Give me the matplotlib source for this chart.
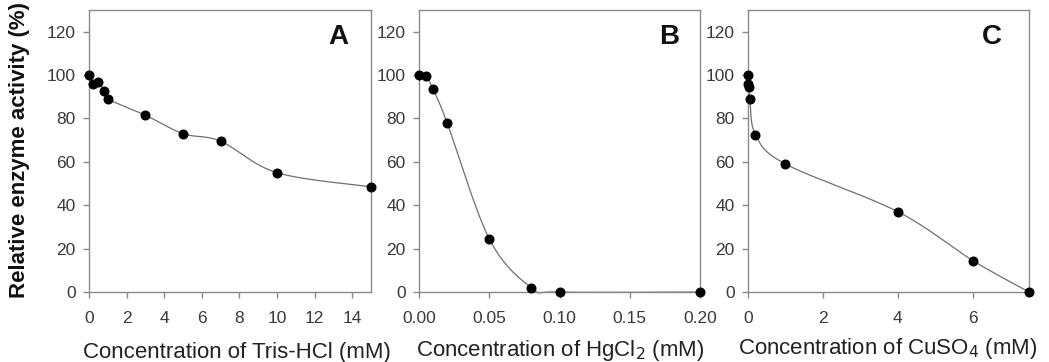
import numpy as np
import matplotlib
matplotlib.use("Agg")
import matplotlib.pyplot as plt

plt.rcParams['font.family'] = ['Liberation Sans', 'DejaVu Sans']

# Panel A: Tris-HCl
tris_x = [0, 0.2, 0.5, 0.8, 1.0, 3, 5, 7, 10, 15]
tris_y = [100, 96, 97, 92.5, 89, 81.5, 73, 69.5, 55, 48.5]
# Panel B: HgCl2
hg_x = [0, 0.005, 0.01, 0.02, 0.05, 0.08, 0.10, 0.20]
hg_y = [100, 99.5, 93.5, 78, 24.5, 2, 0, 0]
# Panel C: CuSO4
cu_x = [0, 0.01, 0.02, 0.05, 0.2, 1.0, 4.0, 6.0, 7.5]
cu_y = [100, 96, 94.5, 89, 72.5, 59, 37, 14.5, 0]

a_ticks = [0, 2, 4, 6, 8, 10, 12, 14]
b_ticks = [0.00, 0.05, 0.10, 0.15, 0.20]
c_ticks = [0, 2, 4, 6]
y_ticks = [0, 20, 40, 60, 80, 100, 120]

W, H = 1049, 362
fig = plt.figure(figsize=(W / 100, H / 100), dpi=100)


def px_axes(l, r, t, b):
    return fig.add_axes([l / W, 1 - b / H, (r - l) / W, (b - t) / H])


def smooth(x, y, xr, yr, n=40):
    x = np.asarray(x, float)
    y = np.asarray(y, float)
    xs, ys = x / xr, y / yr
    P = np.column_stack([xs, ys])
    P = np.vstack([P[0], P, P[-1]])
    out = []
    t = np.linspace(0, 1, n)[:, None]
    for i in range(1, len(P) - 2):
        p0, p1, p2, p3 = P[i - 1], P[i], P[i + 1], P[i + 2]
        m1 = (p2 - p0) / 2
        m2 = (p3 - p1) / 2
        h00 = 2 * t**3 - 3 * t**2 + 1
        h10 = t**3 - 2 * t**2 + t
        h01 = -2 * t**3 + 3 * t**2
        h11 = t**3 - t**2
        seg = h00 * p1 + h10 * m1 + h01 * p2 + h11 * m2
        out.append(seg)
    S = np.vstack(out)
    return S[:, 0] * xr, S[:, 1] * yr


panels = [
    (89, 371, tris_x, tris_y, 15, a_ticks, [str(v) for v in a_ticks], 'A', 0.883,
     'Concentration of Tris-HCl (mM)', 358, 237),
    (419, 700, hg_x, hg_y, 0.2, b_ticks, [f"{v:.2f}" for v in b_ticks], 'B', 0.89,
     'Concentration of HgCl$_2$ (mM)', 356, 560),
    (748, 1029, cu_x, cu_y, 7.5, c_ticks, [str(v) for v in c_ticks], 'C', 0.868,
     'Concentration of CuSO$_4$ (mM)', 354, 888),
]

spine_col = '#8a8a8a'
for i, (l, r, xs, ys, xmax, ticks, labels, letter, lx, xlabel, base, cxp) in enumerate(panels):
    ax = px_axes(l, r, 10, 292)
    sx, sy = smooth(xs, ys, xmax, 130)
    ax.plot(sx, sy, color='#707070', lw=0.9, zorder=2, clip_on=False)
    ax.plot(xs, ys, 'o', color='black', ms=6.2, zorder=3, clip_on=False)
    ax.set_xlim(0, xmax)
    ax.set_ylim(0, 130)
    ax.set_xticks(ticks)
    ax.set_xticklabels(labels)
    ax.set_yticks(y_ticks)
    for s in ax.spines.values():
        s.set_color(spine_col)
        s.set_linewidth(1.0)
    ax.tick_params(direction='out', length=4.5, width=1, color=spine_col,
                   labelsize=12.5, labelcolor='#3a3a3a', pad=5)
    ax.tick_params(axis='x', pad=9)
    ax.text(lx, 0.904, letter, transform=ax.transAxes, fontsize=20,
            fontweight='bold', ha='center', va='center', color='#111111')
    fig.text(cxp / W, 1 - base / H, xlabel, fontsize=16, color='#222222',
             ha='center', va='baseline')

fig.text(20 / W, 1 - 150 / H, 'Relative enzyme activity (%)', fontsize=16,
         fontweight='bold', color='#111111', rotation=90,
         ha='center', va='center')

fig.savefig('out.png', dpi=100)
